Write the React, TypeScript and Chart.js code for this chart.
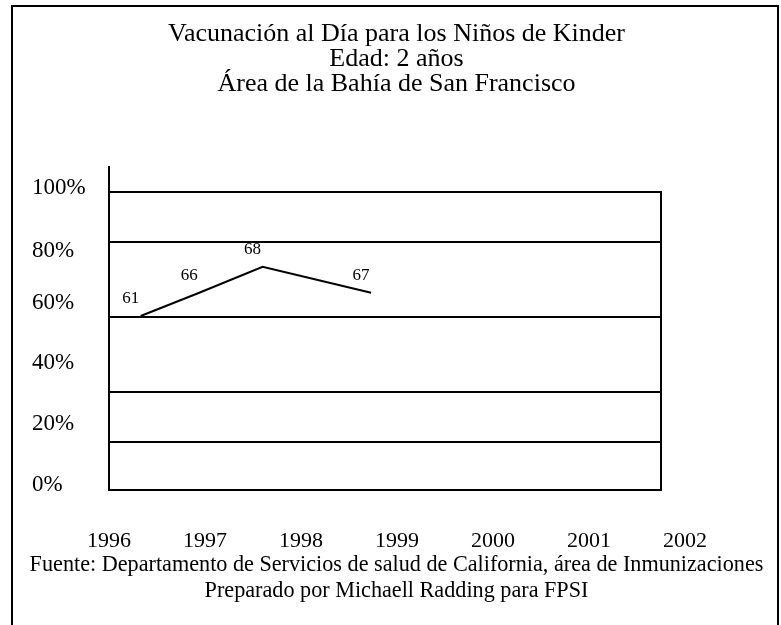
import React, { useEffect, useRef } from 'react';
import { Chart, registerables } from 'chart.js';

Chart.register(...registerables);

// ---- data ----
const titleLines = [
  'Vacunación al Día para los Niños de Kinder',
  'Edad: 2 años',
  'Área de la Bahía de San Francisco',
];
const footerLines = [
  'Fuente: Departamento de Servicios de salud de California, área de Inmunizaciones',
  'Preparado por Michaell Radding para FPSI',
];
const yearTicks = [1996, 1997, 1998, 1999, 2000, 2001, 2002];
const yTickLabels = ['0%', '20%', '40%', '60%', '80%', '100%'];
// where each percentage label sits on the 0–100 plot scale (as drawn)
const yTickLabelAt = [1.7, 22.3, 42.7, 62.7, 80.2, 101.3];
// horizontal rules of the plot box (as drawn)
const gridLineValues = [0, 16.1, 32.8, 58.2, 83.1, 100];
// the drawn line
const pointYears = [1996.33, 1996.94, 1997.6, 1998.73];
const pointValues = [58.4, 66.2, 74.9, 66.2];
const valueLabels = ['61', '66', '68', '67'];

const SERIF = "'Liberation Serif', 'Times New Roman', serif";

const valueLabelPlugin = {
  id: 'valueLabels',
  afterDatasetsDraw(chart: any) {
    const meta = chart.getDatasetMeta(0);
    const ctx = chart.ctx;
    ctx.save();
    ctx.font = `17px ${SERIF}`;
    ctx.fillStyle = '#000';
    ctx.textAlign = 'center';
    ctx.textBaseline = 'middle';
    meta.data.forEach((pt: any, i: number) => {
      ctx.fillText(valueLabels[i], pt.x - 10, pt.y - 17);
    });
    ctx.restore();
  },
};

const axisExtensionPlugin = {
  id: 'axisExtension',
  afterDraw(chart: any) {
    const y = chart.scales.y;
    const { left, top } = chart.chartArea;
    const ctx = chart.ctx;
    ctx.save();
    ctx.strokeStyle = '#000';
    ctx.lineWidth = 2;
    ctx.beginPath();
    ctx.moveTo(left, y.getPixelForValue(108.7));
    ctx.lineTo(left, top);
    ctx.stroke();
    ctx.restore();
  },
};

export default function App() {
  const canvasRef = useRef<HTMLCanvasElement | null>(null);

  useEffect(() => {
    const canvas = canvasRef.current;
    if (!canvas) return;
    const chart = new Chart(canvas, {
      type: 'line',
      data: {
        datasets: [
          {
            data: pointYears.map((x, i) => ({ x, y: pointValues[i] })),
            borderColor: '#000',
            borderWidth: 2,
            pointRadius: 0,
            tension: 0,
            fill: false,
            xAxisID: 'x',
            yAxisID: 'y',
          },
        ],
      },
      options: {
        responsive: false,
        animation: false,
        devicePixelRatio: 1,
        layout: { padding: { left: 12, right: 0, top: 0, bottom: 0 } },
        plugins: {
          legend: { display: false },
          tooltip: { enabled: false },
          title: {
            display: true,
            text: titleLines,
            color: '#000',
            font: { family: SERIF, size: 26, weight: 'normal', lineHeight: 0.962 },
            padding: { top: 21.5, bottom: 95.5 },
          },
          subtitle: {
            display: true,
            position: 'bottom',
            text: footerLines,
            color: '#000',
            font: { family: SERIF, size: 22.2, weight: 'normal', lineHeight: 1.17 },
            padding: { top: 0, bottom: 21 },
          },
        },
        scales: {
          x: {
            type: 'linear',
            min: 1996,
            max: 2001.75,
            grid: { display: false },
            border: { display: false },
            afterBuildTicks: (s: any) => {
              s.ticks = yearTicks.map((v) => ({ value: v }));
            },
            ticks: {
              autoSkip: false,
              maxRotation: 0,
              padding: 30.3,
              color: '#000',
              font: { family: SERIF, size: 22 },
              callback: (v: any) => String(v),
            },
            afterFit: (s: any) => {
              s.height = 62;
            },
          },
          y: {
            type: 'linear',
            position: 'left',
            weight: 0,
            min: 0,
            max: 100,
            grid: { display: true, color: '#000', lineWidth: 2, drawTicks: false },
            border: { display: true, color: '#000', width: 2 },
            ticks: { display: false },
            afterBuildTicks: (s: any) => {
              s.ticks = gridLineValues.map((v) => ({ value: v }));
            },
            afterFit: (s: any) => {
              s.width = 0;
            },
          },
          yl: {
            type: 'linear',
            position: 'left',
            weight: 1,
            min: 0,
            max: 100,
            grid: { display: false },
            border: { display: false },
            afterBuildTicks: (s: any) => {
              s.ticks = yTickLabelAt.map((v) => ({ value: v }));
            },
            ticks: {
              crossAlign: 'far',
              color: '#000',
              font: { family: SERIF, size: 23 },
              callback: (_v: any, i: number) => yTickLabels[i],
            },
            afterFit: (s: any) => {
              s.width = 77;
            },
          },
          ys: {
            type: 'linear',
            position: 'left',
            weight: 2,
            min: 0,
            max: 100,
            grid: { display: false },
            border: { display: false },
            ticks: { display: false },
            afterFit: (s: any) => {
              s.width = 20;
            },
          },
          yr: {
            type: 'linear',
            position: 'right',
            min: 0,
            max: 100,
            grid: { display: false },
            border: { display: true, color: '#000', width: 2 },
            ticks: { display: false },
            afterFit: (s: any) => {
              s.width = 120;
            },
          },
        },
      } as any,
      plugins: [valueLabelPlugin, axisExtensionPlugin],
    });
    return () => chart.destroy();
  }, []);

  return (
    <div
      style={{
        position: 'fixed',
        left: 0,
        top: 0,
        width: 781,
        height: 625,
        overflow: 'hidden',
        background: '#fff',
      }}
    >
      <canvas ref={canvasRef} width={781} height={625} style={{ display: 'block', width: 781, height: 625 }} />
      <div
        style={{
          position: 'absolute',
          left: 11,
          top: 5,
          width: 764,
          height: 700,
          border: '2px solid #000',
          borderBottom: 'none',
          pointerEvents: 'none',
        }}
      />
    </div>
  );
}
